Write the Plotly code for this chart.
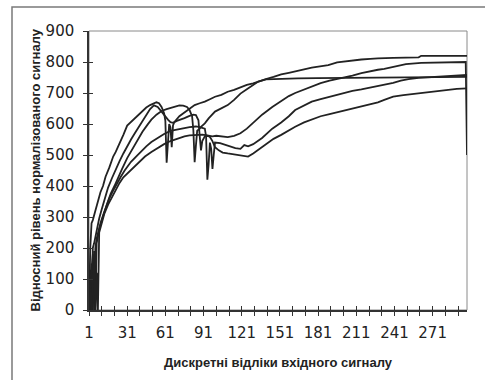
import plotly.graph_objects as go

# ---- data (category index, relative level) ----
s1_x = [1,2,3,4,6,8,10,12,14,17,20,22,25,28,31,34,37,40,43,46,49,52,54,56,58,60,61,62,63,64,65,66,67,68,72,76,80,84,88,92,96,100,105,110,115,120,125,130,134,140,146,152,158,163,170,176,182,189,196,203,210,215,222,228,240,252,260,262,270,280,290,298]
s1_y = [0,200,280,290,320,355,380,400,430,460,495,510,535,565,595,607,620,632,644,653,661,668,670,667,655,635,610,475,560,600,590,525,595,606,625,638,648,661,667,672,680,688,694,704,710,718,726,731,737,745,752,760,765,769,776,782,786,790,799,803,806,808,810,812,813,814,815,820,820,820,820,820]

s2_x = [1,2,3,4,5,7,9,11,13,16,19,22,25,28,31,34,37,40,43,46,49,52,55,58,61,63,65,67,70,73,76,80,83,85,87,88,89,90,92,95,98,101,105,110,115,120,125,130,137,145,152,158,163,170,176,183,190,196,202,208,215,222,228,233,240,250,262,270,280,290,297,298]
s2_y = [0,130,0,200,215,260,295,325,355,395,425,455,480,505,530,550,570,590,610,630,648,660,655,640,622,614,606,604,610,614,619,626,630,629,612,560,515,545,560,562,560,562,560,558,562,570,585,605,630,655,675,690,700,712,722,732,740,745,749,756,764,771,775,778,785,793,797,798,799,800,800,500]

s3_x = [1,2,3,4,5,6,7,9,11,13,15,18,21,24,27,31,35,39,43,47,50,54,58,62,66,70,72,75,78,80,82,83,84,85,86,88,89,92,95,100,105,110,115,120,125,130,134,140,150,165,180,200,220,240,260,280,298]
s3_y = [0,100,150,0,190,0,215,260,290,315,340,375,400,425,455,490,520,548,575,598,614,630,642,648,652,658,660,659,655,645,625,580,477,530,578,585,591,602,618,640,650,661,678,698,712,726,737,744,746,747,748,749,750,750,751,751,752]

s4_x = [1,2,3,4,5,6,7,8,10,12,14,17,20,23,26,29,31,34,38,42,46,50,55,60,65,70,76,80,85,88,90,92,93,94,95,96,97,98,99,100,104,108,112,116,120,123,126,130,137,145,152,158,163,170,176,183,190,196,202,208,215,222,228,233,240,246,252,260,270,280,290,298]
s4_y = [50,0,130,180,0,200,230,250,280,305,330,360,385,410,430,450,462,478,495,512,528,542,555,568,578,583,587,590,592,590,588,585,560,420,470,540,520,455,500,540,538,532,528,522,520,532,528,535,555,585,605,625,645,660,672,680,688,693,700,707,712,718,722,726,733,740,745,749,752,754,756,758]

s5_x = [1,2,3,4,5,6,7,8,9,11,13,16,19,22,25,28,31,35,40,45,50,55,60,65,70,76,80,85,90,94,96,98,100,103,106,110,114,118,122,126,130,135,140,146,152,158,163,170,176,183,190,196,202,208,215,222,228,233,240,248,256,262,270,280,290,298]
s5_y = [0,60,0,110,150,0,120,0,250,285,310,340,365,390,410,428,440,458,478,495,510,523,535,545,553,560,563,565,566,563,558,545,525,515,508,505,502,500,497,495,505,520,535,552,565,580,591,605,615,625,632,638,643,648,655,662,670,678,688,693,697,700,705,710,713,715]

series = [(s1_x, s1_y), (s2_x, s2_y), (s3_x, s3_y), (s4_x, s4_y), (s5_x, s5_y)]

x_tick_vals = list(range(1, 292, 10))
x_tick_labels = [str(v) if (v - 1) % 30 == 0 else "" for v in x_tick_vals]
y_tick_vals = list(range(0, 901, 100))
y_tick_labels = [str(v) for v in y_tick_vals]

x_title = "Дискретні відліки вхідного сигналу"
y_title = "Відносний рівень нормалізованого сигналу"

X_RANGE = [1, 298]
Y_RANGE = [0, 900]

fig = go.Figure()
for sx, sy in series:
    fig.add_trace(go.Scatter(x=sx, y=sy, mode="lines",
                             line=dict(color="#222222", width=1.8),
                             showlegend=False, hoverinfo="skip"))
# invisible trace to carry the overlay axes (inside half of cross tick marks)
fig.add_trace(go.Scatter(x=[X_RANGE[0]], y=[Y_RANGE[0]], xaxis="x2", yaxis="y2",
                         mode="markers", marker=dict(opacity=0), showlegend=False,
                         hoverinfo="skip"))

tick_font = dict(family="DejaVu Sans, Arial, sans-serif", size=15, color="#222")
axis_common = dict(showgrid=False, zeroline=False, ticklen=4, tickwidth=1.2,
                   tickcolor="#333", tickfont=tick_font)

fig.update_layout(
    width=485, height=380,
    margin=dict(l=89, r=18, t=31, b=70),
    paper_bgcolor="white", plot_bgcolor="white",
    xaxis=dict(range=X_RANGE, tickmode="array", tickvals=x_tick_vals,
               ticktext=x_tick_labels, ticks="outside", showline=True,
               linecolor="#333", linewidth=1.5, ticklabelstandoff=4,
               **axis_common),
    yaxis=dict(range=Y_RANGE, tickmode="array", tickvals=y_tick_vals,
               ticktext=y_tick_labels, ticks="outside", showline=True,
               linecolor="#333", linewidth=1.5, ticklabelstandoff=6,
               **axis_common),
    xaxis2=dict(range=X_RANGE, overlaying="x", anchor="y", side="bottom",
                tickmode="array", tickvals=x_tick_vals, ticks="inside",
                showticklabels=False, showline=False, showgrid=False,
                zeroline=False, ticklen=4, tickwidth=1.2, tickcolor="#333"),
    yaxis2=dict(range=Y_RANGE, overlaying="y", anchor="x", side="left",
                tickmode="array", tickvals=y_tick_vals, ticks="inside",
                showticklabels=False, showline=False, showgrid=False,
                zeroline=False, ticklen=4, tickwidth=1.2, tickcolor="#333"),
    shapes=[
        dict(type="rect", xref="paper", yref="paper", x0=0, x1=1, y0=0, y1=1,
             line=dict(color="#8a8a8a", width=1), layer="below"),
        dict(type="rect", xref="paper", yref="paper",
             x0=(12 - 89) / 378, x1=1.12, y0=-0.3, y1=(310 - 7) / 279,
             line=dict(color="#7a7a7a", width=1.5), layer="below"),
    ],
    annotations=[
        dict(text=f"<b>{x_title}</b>", xref="paper", yref="paper",
             x=0.5, y=(310 - 362) / 279, xanchor="center", yanchor="middle",
             showarrow=False,
             font=dict(family="Liberation Sans, Arial, sans-serif", size=13, color="#222")),
        dict(text=f"<b>{y_title}</b>", xref="paper", yref="paper",
             x=(35 - 89) / 378, y=0.5, xanchor="center", yanchor="middle",
             textangle=-90, showarrow=False,
             font=dict(family="Liberation Sans, Arial, sans-serif", size=13, color="#222")),
    ],
)

fig.write_html("out.html")
